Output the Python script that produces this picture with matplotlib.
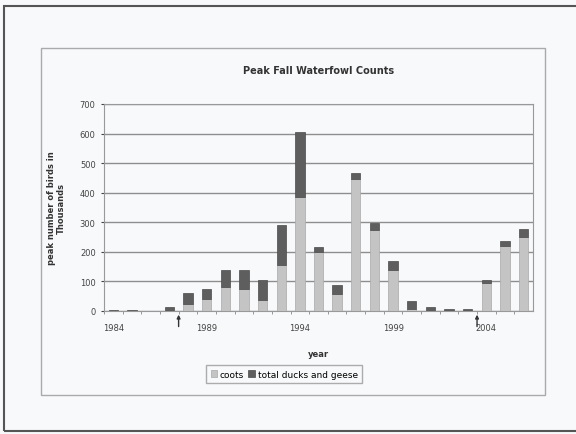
import numpy as np
import matplotlib.pyplot as plt
from matplotlib.patches import Rectangle

years = list(range(1984, 2007))
coots = [1, 1, 0, 3, 25, 40, 81, 76, 36, 155, 386, 200, 59, 448, 273, 138, 8, 3, 2, 2, 93, 219, 250]
totals = [2, 3, 1, 14, 62, 76, 140, 140, 104, 292, 606, 217, 89, 465, 299, 168, 33, 12, 6, 6, 106, 237, 278]
ducks = [t - c for t, c in zip(totals, coots)]
label_years = [1984, 1989, 1994, 1999, 2004]
arrow_years = [1987.5, 2003.5]

bg = "#f8f9fb"
fig = plt.figure(figsize=(5.76, 4.35), dpi=100, facecolor=bg)

# outer frame and inner chart frame
fig.add_artist(Rectangle((4 / 576, 1 - 432 / 435), 575 / 576, 425 / 435, transform=fig.transFigure,
                         fill=False, edgecolor="#555555", lw=1.5))
fig.add_artist(Rectangle((41 / 576, 1 - 396 / 435), 504 / 576, 347 / 435, transform=fig.transFigure,
                         fill=False, edgecolor="#aaaaaa", lw=1))

ax = fig.add_axes([104 / 576, 1 - 312 / 435, 429 / 576, 207 / 435])
ax.set_facecolor(bg)

x = np.arange(len(years))
ax.bar(x, coots, width=0.5, color="#c4c4c4", edgecolor="#a8a8a8", lw=0.5, label="coots", zorder=3)
ax.bar(x, ducks, width=0.5, bottom=coots, color="#5e5e5e", edgecolor="#4a4a4a", lw=0.5,
       label="total ducks and geese", zorder=3)

ax.set_xlim(-0.5, len(years) - 0.5)
ax.set_ylim(0, 700)
ax.set_yticks(range(0, 701, 100))
ax.yaxis.grid(True, color="#8e8e8e", lw=1)
ax.set_axisbelow(True)

ax.set_xticks([years.index(y) for y in label_years])
ax.set_xticklabels([str(y) for y in label_years])
ax.set_xticks(x - 0.5, minor=True)
ax.tick_params(axis="x", which="major", length=0, labelsize=6, colors="#444444", pad=9)
ax.tick_params(axis="x", which="minor", length=2, color="#888888")
ax.tick_params(axis="y", length=2, labelsize=6, colors="#444444", pad=4)
for s in ax.spines.values():
    s.set_color("#999999")
    s.set_linewidth(0.8)

# arrows marking years below the axis
for ay in arrow_years:
    ax.annotate("", xy=(ay - 1984, -3), xytext=(ay - 1984, -62),
                arrowprops=dict(arrowstyle="-|>", color="#333333", lw=1, mutation_scale=5),
                annotation_clip=False)

ax.set_title("Peak Fall Waterfowl Counts", fontsize=7, fontweight="bold", color="#333333", pad=22)
ax.set_xlabel("year", fontsize=6, fontweight="bold", color="#333333", labelpad=12)
ax.set_ylabel("peak number of birds in\nThousands", fontsize=6, fontweight="bold", color="#333333",
              labelpad=10)

ax.legend(loc="upper center", bbox_to_anchor=(0.42, -0.24), ncol=2, fontsize=6.5, frameon=True,
          fancybox=False, edgecolor="#999999", handlelength=0.7, handleheight=0.7,
          handletextpad=0.3, columnspacing=0.5, borderpad=0.5, facecolor=bg)

fig.savefig("out.png", dpi=100, facecolor=bg)
